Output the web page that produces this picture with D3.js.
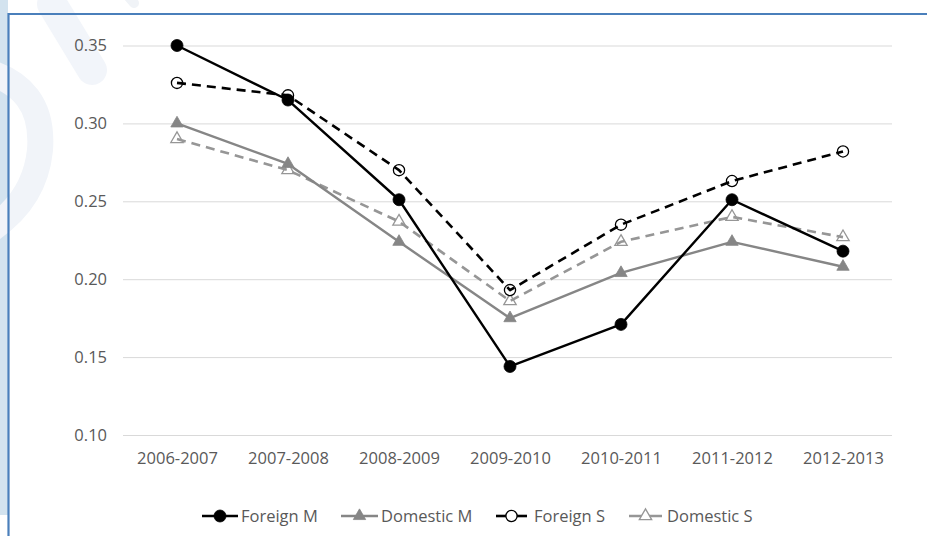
<!DOCTYPE html>
<html>
<head>
<meta charset="utf-8">
<script src="https://cdn.jsdelivr.net/npm/d3@7"></script>
<style>
  html, body { margin: 0; padding: 0; background: #ffffff; }
  svg { display: block; font-family: "Open Sans", "Noto Sans", sans-serif; }
</style>
</head>
<body>
<svg id="chart" width="927" height="536"></svg>
<script>
// Academic years on the horizontal axis
const years = ["2006-2007", "2007-2008", "2008-2009", "2009-2010", "2010-2011", "2011-2012", "2012-2013"];

// Series values per year
const foreignM  = [0.350, 0.315, 0.251, 0.144, 0.171, 0.251, 0.218];
const domesticM = [0.300, 0.274, 0.224, 0.175, 0.204, 0.224, 0.208];
const foreignS  = [0.326, 0.318, 0.270, 0.193, 0.235, 0.263, 0.282];
const domesticS = [0.290, 0.270, 0.237, 0.186, 0.224, 0.240, 0.227];

// Value axis ticks
const yTicks = [0.10, 0.15, 0.20, 0.25, 0.30, 0.35];

const seriesNames = ["Foreign M", "Domestic M", "Foreign S", "Domestic S"];
const seriesValues = [foreignM, domesticM, foreignS, domesticS];

const styles = {
  "Foreign M":  { color: "#000000", dash: null,  marker: "circle",   fill: "#000000", width: 2.4 },
  "Domestic M": { color: "#868686", dash: null,  marker: "triangle", fill: "#868686", width: 2.4 },
  "Foreign S":  { color: "#000000", dash: "9,6", marker: "circle",   fill: "#ffffff", width: 2.6 },
  "Domestic S": { color: "#969696", dash: "9,6", marker: "triangle", fill: "#ffffff", width: 2.6 }
};

const svg = d3.select("#chart");

// ---- page frame: side strip, faint watermark, blue border ----
svg.append("rect").attr("x", 0).attr("y", 0).attr("width", 927).attr("height", 536).attr("fill", "#ffffff");
svg.append("rect").attr("x", 0).attr("y", 0).attr("width", 8).attr("height", 515).attr("fill", "#d3e3ef");

const wm = svg.append("g").attr("fill", "none").attr("stroke-linecap", "round");
wm.append("path")
  .attr("d", "M 52 4 L 92 70")
  .attr("stroke", "#f2f5fa").attr("stroke-width", 30);
wm.append("path")
  .attr("d", "M -20 70 Q 45 85 40 150 Q 35 200 -10 230")
  .attr("stroke", "#f1f4f9").attr("stroke-width", 26);
wm.append("path")
  .attr("d", "M 128 -4 L 134 3")
  .attr("stroke", "#f0f3f7").attr("stroke-width", 10);

svg.append("line").attr("x1", 8.5).attr("x2", 927).attr("y1", 14).attr("y2", 14)
  .attr("stroke", "#4a7fbb").attr("stroke-width", 2.2);
svg.append("line").attr("x1", 8.5).attr("x2", 8.5).attr("y1", 13).attr("y2", 536)
  .attr("stroke", "#4a7fbb").attr("stroke-width", 2.2);

// ---- scales ----
const x = d3.scalePoint().domain(years).range([177, 843]);
const y = d3.scaleLinear().domain([0.10, 0.35]).range([435, 45.5]);

const gridLeft = 123, gridRight = 892;

// ---- value axis with gridlines ----
const yAxis = svg.append("g")
  .attr("transform", `translate(${gridLeft},0)`)
  .call(d3.axisLeft(y).tickValues(yTicks).tickFormat(d3.format(".2f"))
        .tickSize(-(gridRight - gridLeft)).tickPadding(16));
yAxis.select(".domain").remove();
yAxis.selectAll(".tick line").attr("stroke", "#d9d9d9").attr("stroke-width", 1);
yAxis.selectAll(".tick text").attr("fill", "#595959").attr("font-size", 16.5)
  .attr("font-family", "'Open Sans', sans-serif");

// ---- category axis ----
const xAxis = svg.append("g")
  .attr("transform", "translate(0,435)")
  .call(d3.axisBottom(x).tickSize(0).tickPadding(17));
xAxis.select(".domain").remove();
xAxis.selectAll(".tick text").attr("fill", "#595959").attr("font-size", 16.5)
  .attr("font-family", "'Open Sans', sans-serif");

// ---- markers ----
const triPath = d3.symbol().type(d3.symbolTriangle).size(66);
function drawMarker(g, kind, cx, cy, st) {
  const hollow = st.fill === "#ffffff";
  if (kind === "circle") {
    g.append("circle").attr("cx", cx).attr("cy", cy).attr("r", hollow ? 5.6 : 6)
      .attr("fill", st.fill).attr("stroke", st.color).attr("stroke-width", hollow ? 1.3 : 0.8);
  } else {
    g.append("path").attr("d", triPath).attr("transform", `translate(${cx},${cy})`)
      .attr("fill", st.fill).attr("stroke", st.color).attr("stroke-width", hollow ? 1.3 : 0.8);
  }
}

const line = d3.line().x((d, i) => x(years[i])).y(d => y(d));

// Draw the series last-to-first so the solid series sit on top
for (let s = seriesNames.length - 1; s >= 0; s--) {
  const name = seriesNames[s];
  const st = styles[name];
  const vals = seriesValues[s];
  const g = svg.append("g").attr("class", "series");
  vals.forEach((v, i) => drawMarker(g, st.marker, x(years[i]), y(v), st));
  g.append("path").datum(vals).attr("d", line)
    .attr("fill", "none").attr("stroke", st.color).attr("stroke-width", st.width)
    .attr("stroke-dasharray", st.dash).attr("stroke-linejoin", "round");
}

// ---- legend ----
const legendY = 516;
const legendItems = [
  { name: "Foreign M",  x0: 202, x1: 238, textX: 241 },
  { name: "Domestic M", x0: 341, x1: 378, textX: 381 },
  { name: "Foreign S",  x0: 496, x1: 527, textX: 534 },
  { name: "Domestic S", x0: 629, x1: 662, textX: 667 }
];
legendItems.forEach(it => {
  const st = styles[it.name];
  const g = svg.append("g");
  const mid = (it.x0 + it.x1) / 2;
  g.append("line").attr("x1", it.x0).attr("x2", it.x1).attr("y1", legendY).attr("y2", legendY)
    .attr("stroke", st.color).attr("stroke-width", st.width);
  drawMarker(g, st.marker, mid, legendY, st);
  g.append("text").attr("x", it.textX).attr("y", legendY).attr("dy", "0.35em")
    .attr("fill", "#595959").attr("font-size", 16.5).text(it.name);
});
</script>
</body>
</html>
